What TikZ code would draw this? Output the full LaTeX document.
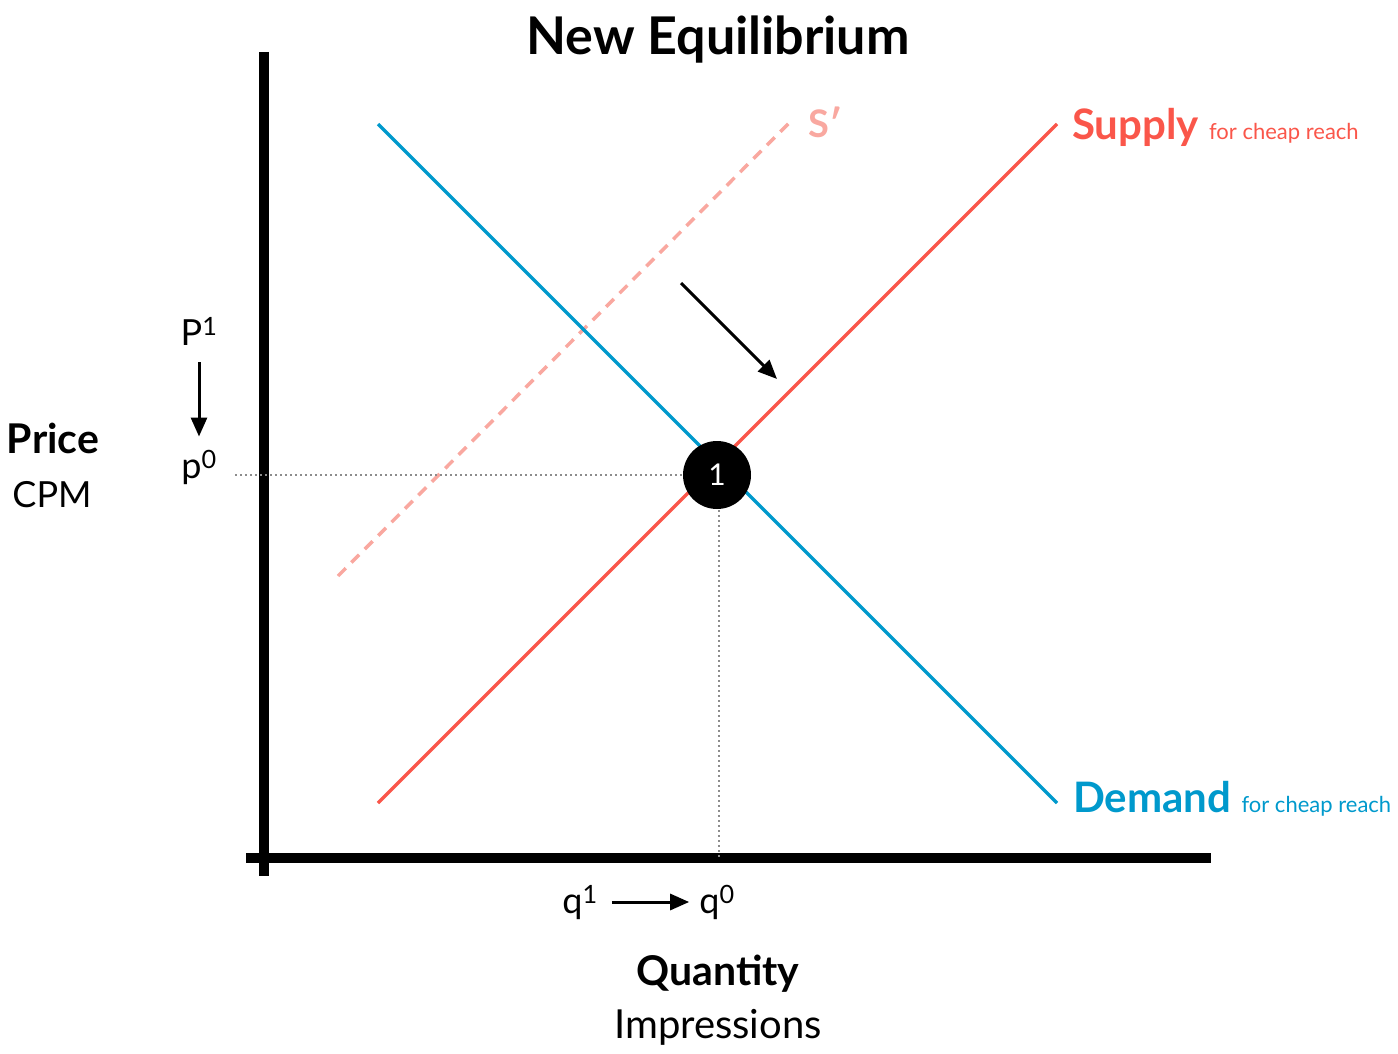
\documentclass[tikz,border=0pt]{standalone}
\usepackage{fontspec}
\setmainfont{Lato}
\usetikzlibrary{arrows.meta}
\definecolor{demandblue}{RGB}{0,153,204}
\definecolor{supplyred}{RGB}{250,86,74}
\definecolor{shiftred}{RGB}{249,168,160}
\definecolor{guidegray}{RGB}{140,140,140}
\newcommand{\fs}[1]{\fontsize{#1}{#1}\selectfont}
\begin{document}
\begin{tikzpicture}[x=1pt,y=-1pt,
    axis/.style={line width=10pt},
    curve/.style={line width=3.5pt},
    guide/.style={guidegray,line width=1.5pt,dash pattern=on 1.5pt off 3.5pt},
    move/.style={line width=3pt,-{Triangle[length=19pt,width=16pt]}},
    txt/.style={inner sep=0pt,anchor=base}]
  \useasboundingbox (0,0) rectangle (1398,1054);

  % title
  \node[txt,font=\fs{52}\bfseries] (title) at (718,55) {New Equilibrium};

  % axes
  \coordinate (ytop) at (264,52);
  \coordinate (ybot) at (264,876);
  \coordinate (xleft) at (246,858);
  \coordinate (xright) at (1211,858);
  \draw[axis] (ytop) -- (ybot);
  \draw[axis] (xleft) -- (xright);

  % axis titles
  \node[txt,font=\fs{41}\bfseries] (price) at (53,453) {Price};
  \node[txt,font=\fs{36}] (cpm) at (52,507) {CPM};
  \node[txt,font=\fs{41}\bfseries] (quantity) at (718,985) {Quantity};
  \node[txt,font=\fs{40}] (impr) at (718,1038) {Impressions};

  % curves
  \coordinate (dtop) at (378,124);
  \coordinate (dbot) at (1057,803);
  \coordinate (sbot) at (378,803);
  \coordinate (stop) at (1057,124);
  \coordinate (shbot) at (338,576);
  \coordinate (shtop) at (792,120);
  \draw[curve,shiftred,dash pattern=on 11pt off 8pt] (shbot) -- (shtop);
  \draw[curve,demandblue] (dtop) -- (dbot);
  \draw[curve,supplyred] (sbot) -- (stop);

  % curve labels
  \node[txt,anchor=base west,font=\fs{38}\bfseries,text=shiftred] (sprime) at (808,138) {S′};
  \node[txt,anchor=base west,text=supplyred] (slabel) at (1072,140)
    {\fs{42}\bfseries Supply {\fs{22}\mdseries for cheap reach}};
  \node[txt,anchor=base west,text=demandblue] (dlabel) at (1073,812)
    {\fs{42}\bfseries Demand {\fs{22}\mdseries for cheap reach}};

  % guides to the equilibrium
  \coordinate (eqpt) at (717,475);
  \coordinate (pmark) at (235,475);
  \coordinate (qmark) at (719,858);
  \draw[guide] (pmark) -- (eqpt);
  \draw[guide] (eqpt -| qmark) -- (qmark);
  \node[circle,fill=black,minimum size=68pt,inner sep=0pt,text=white,font=\fs{30}] (eq) at (eqpt) {1};

  % shift arrow
  \coordinate (shfrom) at (681,283);
  \coordinate (shto) at (777,379);
  \draw[move] (shfrom) -- (shto);

  % price change
  \node[txt,font=\fs{36}] (pone) at (199,345) {P\textsuperscript{1}};
  \node[txt,font=\fs{36}] (pzero) at (199,478) {p\textsuperscript{0}};
  \draw[move,shorten <=17pt,shorten >=14pt] (pone.south) -- (pzero.north);

  % quantity change
  \node[txt,font=\fs{36}] (qone) at (580,913) {q\textsuperscript{1}};
  \node[txt,font=\fs{36}] (qzero) at (717,913) {q\textsuperscript{0}};
  \draw[move,shorten <=14pt,shorten >=10pt] (qone.east |- 0,902) -- (qzero.west |- 0,902);
\end{tikzpicture}
\end{document}
